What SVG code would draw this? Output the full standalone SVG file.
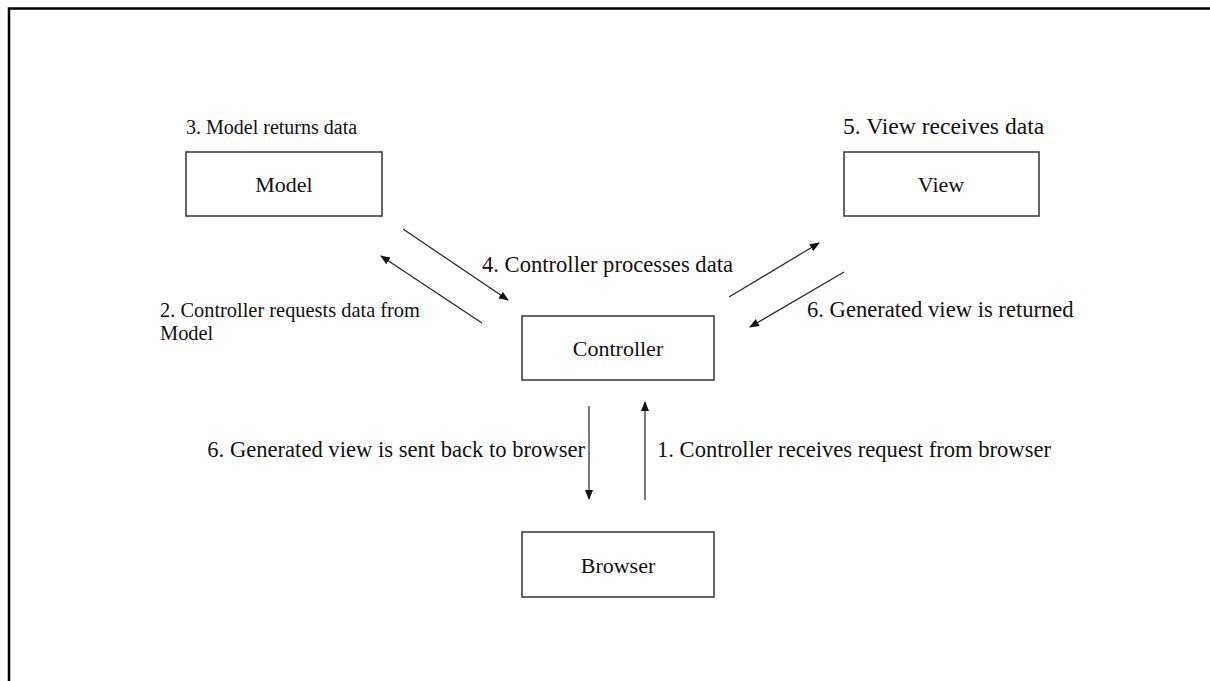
<svg xmlns="http://www.w3.org/2000/svg" width="1210" height="681" viewBox="0 0 1210 681">
<defs>
<style>
.box{fill:#fff;stroke:#333;stroke-width:1.5}
.lbl{text-anchor:start}
.name{text-anchor:middle}
.conn line{stroke:#222;stroke-width:1.2}
</style>
<marker id="ah" markerWidth="10" markerHeight="8" refX="9" refY="4" orient="auto" markerUnits="userSpaceOnUse">
<path d="M0,0 L10,4 L0,8 Z" fill="#111"/>
</marker>
</defs>
<rect width="1210" height="681" fill="#fff"/>
<path d="M9,681 V8.5 H1210" fill="none" stroke="#000" stroke-width="2.5"/>
<g font-family="'Liberation Serif', 'Times New Roman', 'DejaVu Serif', serif" font-size="22" fill="#111">
<g id="model"><rect class="box" x="186" y="152" width="196" height="64"/><text class="name" x="284" y="192">Model</text></g>
<g id="view"><rect class="box" x="844" y="152" width="195" height="64"/><text class="name" x="941" y="192">View</text></g>
<g id="controller"><rect class="box" x="522" y="316" width="192" height="64"/><text class="name" x="618" y="356">Controller</text></g>
<g id="browser"><rect class="box" x="522" y="532" width="192" height="65"/><text class="name" x="618" y="573">Browser</text></g>
<g id="labels">
<text class="lbl" x="186" y="134" font-size="20">3. Model returns data</text>
<text class="lbl" x="843" y="134" font-size="23.6">5. View receives data</text>
<text class="lbl" x="482" y="272" font-size="22.6">4. Controller processes data</text>
<text class="lbl" x="160" y="317" font-size="20.4">2. Controller requests data from</text>
<text class="lbl" x="160" y="340" font-size="20.4">Model</text>
<text class="lbl" x="807" y="317" font-size="22.6">6. Generated view is returned</text>
<text x="585" y="457" font-size="22.6" text-anchor="end">6. Generated view is sent back to browser</text>
<text class="lbl" x="657" y="457" font-size="22.6">1. Controller receives request from browser</text>
</g>
</g>
<g id="connectors" class="conn">
<line x1="403" y1="229" x2="508" y2="300" marker-end="url(#ah)"/>
<line x1="482" y1="323" x2="381" y2="256" marker-end="url(#ah)"/>
<line x1="729" y1="297" x2="819" y2="243" marker-end="url(#ah)"/>
<line x1="844" y1="272" x2="750" y2="327" marker-end="url(#ah)"/>
<line x1="589" y1="406" x2="589" y2="499" marker-end="url(#ah)"/>
<line x1="645" y1="500" x2="645" y2="402" marker-end="url(#ah)"/>
</g>
</svg>
